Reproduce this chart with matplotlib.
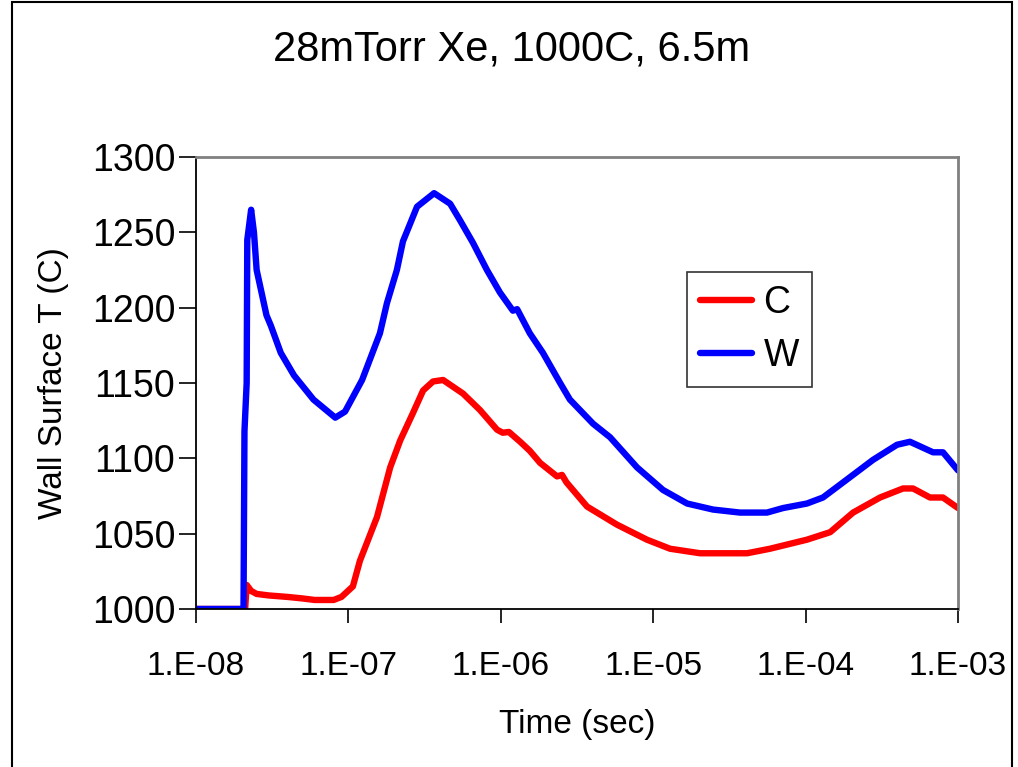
import matplotlib
matplotlib.use("Agg")
import matplotlib.pyplot as plt
import matplotlib.patches as mpatches
from matplotlib.ticker import FixedLocator, NullLocator

plt.rcParams["font.family"] = ["Liberation Sans", "DejaVu Sans"]

# Wall surface temperature vs time
time_c = [1e-8, 2.1e-8, 2.15e-8, 2.3e-8, 2.5e-8, 3.0e-8, 4.0e-8, 5.0e-8, 6.0e-8,
          8.0e-8, 9.0e-8, 1.07e-7, 1.19e-7, 1.54e-7, 1.88e-7, 2.19e-7, 2.65e-7,
          3.09e-7, 3.59e-7, 4.18e-7, 5.65e-7, 7.31e-7, 9.45e-7, 1.03e-6, 1.13e-6,
          1.34e-6, 1.55e-6, 1.81e-6, 2.34e-6, 2.52e-6, 2.7e-6, 3.68e-6, 5.78e-6,
          9.1e-6, 1.29e-5, 2.03e-5, 4.13e-5, 5.84e-5, 1.02e-4, 1.45e-4, 2.05e-4,
          3.08e-4, 4.36e-4, 5.07e-4, 6.55e-4, 7.97e-4, 1e-3]
temp_c = [1000, 1000, 1016, 1012, 1010, 1009, 1008, 1007, 1006,
          1006, 1008, 1015, 1032, 1061, 1094, 1112, 1130,
          1145, 1151, 1152, 1143, 1132, 1119, 1117, 1117.5,
          1111, 1105, 1097, 1088, 1089, 1084, 1068, 1056,
          1046, 1040, 1037, 1037, 1040, 1046, 1051, 1064,
          1074, 1080, 1080, 1074, 1074, 1067]

time_w = [1e-8, 2.05e-8, 2.08e-8, 2.15e-8, 2.17e-8, 2.3e-8, 2.4e-8, 2.5e-8,
          2.9e-8, 3.1e-8, 3.6e-8, 4.4e-8, 5.9e-8, 8.2e-8, 9.5e-8, 1.23e-7,
          1.61e-7, 1.79e-7, 2.08e-7, 2.28e-7, 2.82e-7, 3.65e-7, 4.65e-7, 5.4e-7,
          6.57e-7, 8.11e-7, 9.88e-7, 1.2e-6, 1.28e-6, 1.55e-6, 1.89e-6, 2.45e-6,
          2.84e-6, 4.03e-6, 5.21e-6, 7.83e-6, 1.16e-5, 1.67e-5, 2.47e-5, 3.71e-5,
          5.58e-5, 7.11e-5, 1.02e-4, 1.3e-4, 1.87e-4, 2.77e-4, 3.98e-4, 4.84e-4,
          6.86e-4, 7.97e-4, 1e-3]
temp_w = [1000, 1000, 1118, 1150, 1245, 1265, 1250, 1225,
          1195, 1188, 1170, 1155, 1139, 1127, 1131, 1152,
          1183, 1203, 1225, 1244, 1267, 1276, 1269, 1258,
          1243, 1225, 1210, 1198, 1199, 1183, 1170, 1150,
          1139, 1123, 1114, 1094, 1079, 1070, 1066, 1064,
          1064, 1067, 1070, 1074, 1086, 1099, 1109, 1111,
          1104, 1104, 1092]

x_ticks = [1e-8, 1e-7, 1e-6, 1e-5, 1e-4, 1e-3]
x_labels = ["1.E-08", "1.E-07", "1.E-06", "1.E-05", "1.E-04", "1.E-03"]
y_ticks = [1000, 1050, 1100, 1150, 1200, 1250, 1300]

fig = plt.figure(figsize=(10.18, 7.67), dpi=100)
ax = fig.add_axes([196 / 1018, 1 - 609 / 767, 762 / 1018, 452 / 767])

ax.plot(time_c, temp_c, color="#FF0000", lw=4.6, label="C",
        solid_joinstyle="round", solid_capstyle="round")
ax.plot(time_w, temp_w, color="#0000FF", lw=4.6, label="W",
        solid_joinstyle="round", solid_capstyle="round")

ax.set_xscale("log")
ax.set_xlim(1e-8, 1e-3)
ax.set_ylim(1000, 1300)
ax.xaxis.set_major_locator(FixedLocator(x_ticks))
ax.xaxis.set_minor_locator(NullLocator())
ax.set_xticklabels(x_labels)
ax.set_yticks(y_ticks)

ax.tick_params(axis="y", direction="out", length=12, width=1.2, pad=3,
               labelsize=27)
ax.tick_params(axis="x", direction="out", length=10, width=1.2, pad=20,
               labelsize=24)
for s in ("top", "right"):
    ax.spines[s].set_color("#808080")
    ax.spines[s].set_linewidth(2)
for s in ("left", "bottom"):
    ax.spines[s].set_color("black")
    ax.spines[s].set_linewidth(1.3)

ax.set_xlabel("Time (sec)", fontsize=24, labelpad=20)
ax.set_ylabel("Wall Surface T (C)", fontsize=24, labelpad=16)

leg = ax.legend(loc="upper left", bbox_to_anchor=(0.644, 0.746),
                borderaxespad=0, fontsize=27, handlelength=1.4,
                handletextpad=0.3, borderpad=0.35, labelspacing=0.45,
                fancybox=False, frameon=True)
leg.get_frame().set_edgecolor("black")
leg.get_frame().set_linewidth(1.2)

fig.text(512 / 1018, 1 - 50 / 767, "28mTorr Xe, 1000C, 6.5m",
         fontsize=30, ha="center", va="center")

# outer chart border
fig.patches.append(mpatches.Rectangle(
    (12 / 1018, -0.01), 1000 / 1018, 1.01 - 1.5 / 767,
    transform=fig.transFigure, fill=False, edgecolor="black", lw=1.5))

fig.savefig("out.png", dpi=100)
